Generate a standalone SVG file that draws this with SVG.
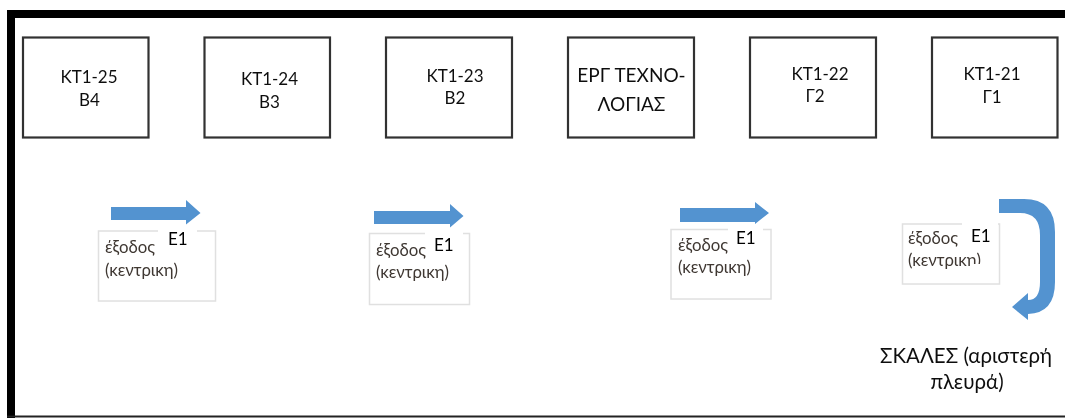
<svg xmlns="http://www.w3.org/2000/svg" width="1065" height="418" viewBox="0 0 1065 418">
<defs>
<filter id="soft" x="-2%" y="-2%" width="104%" height="104%"><feGaussianBlur stdDeviation="0.45"/></filter>
<clipPath id="clipExit"><rect x="903" y="225" width="67" height="48"/><rect x="970" y="225" width="29" height="39"/></clipPath>
</defs>
<style>
text{font-family:Lato,"Liberation Sans",sans-serif;fill:#1c1c1c}
.room{fill:#fff;stroke:#333;stroke-width:2.200}
.lbl{font-size:17px;text-anchor:middle;fill:#111}
.big{font-size:19px;text-anchor:middle;fill:#111}
.stairs{font-size:20.500px;text-anchor:middle;fill:#111}
.exit{fill:#fff;stroke:#e0e0e0;stroke-width:1.500}
.ex{font-size:16.800px;fill:#3f3833}
.e1{font-size:17px;fill:#000}
.arrow{fill:#5393d0}
.gap{fill:#fff}
</style>
<g filter="url(#soft)">
<rect x="0" y="0" width="1065" height="418" fill="#fff"/>
<g id="frame">
<rect x="7" y="10" width="1058" height="8" fill="#000"/>
<rect x="7" y="10" width="8" height="408" fill="#000"/>
<rect x="7" y="415.500" width="1058" height="2" fill="#222"/>
</g>
<g id="connectors">
<path class="arrow" d="M111 207H186V200L200.500 213 186 224.500V220H111Z"/>
<path class="arrow" d="M374 211H450V204L463.500 216 450 227.500V224H374Z"/>
<path class="arrow" d="M680 208H755V202L769 213 755 224V222H680Z"/>
<path class="arrow" d="M999 199H1024Q1055 199 1055 232V282Q1055 313 1028 314V320L1012 307 1028 293V300Q1040 300 1040 282V235Q1040 213 1020 213H999Z"/>
</g>
<g id="room-kt1-25"><rect class="room" x="23" y="37.500" width="125.500" height="100"/><text class="lbl" x="89" y="83">ΚΤ1-25</text><text class="lbl" x="89.500" y="106">Β4</text></g>
<g id="room-kt1-24"><rect class="room" x="204.500" y="37.500" width="125.500" height="100"/><text class="lbl" x="269.500" y="85">ΚΤ1-24</text><text class="lbl" x="269.500" y="108">Β3</text></g>
<g id="room-kt1-23"><rect class="room" x="386" y="37.500" width="126" height="100"/><text class="lbl" x="455" y="82">ΚΤ1-23</text><text class="lbl" x="455" y="104">Β2</text></g>
<g id="room-erg"><rect class="room" x="568" y="37.500" width="126" height="100"/><text class="big" x="631.500" y="82">ΕΡΓ ΤΕΧΝΟ-</text><text class="big" x="631.500" y="111">ΛΟΓΙΑΣ</text></g>
<g id="room-kt1-22"><rect class="room" x="750" y="37.500" width="126" height="100"/><text class="lbl" x="820" y="80">ΚΤ1-22</text><text class="lbl" x="815" y="102">Γ2</text></g>
<g id="room-kt1-21"><rect class="room" x="932" y="37.500" width="125.500" height="100"/><text class="lbl" x="992" y="80">ΚΤ1-21</text><text class="lbl" x="992" y="103">Γ1</text></g>
<g id="exit-1"><rect class="exit" x="98.500" y="231" width="117" height="70"/><rect class="gap" x="158" y="229" width="39" height="5"/><text class="ex" x="105" y="253">έξοδος</text><text class="ex" x="105" y="276">(κεντρικη)</text><text class="e1" x="168" y="245">Ε1</text></g>
<g id="exit-2"><rect class="exit" x="369.500" y="233.500" width="100" height="71"/><rect class="gap" x="425" y="231" width="38" height="5"/><text class="ex" x="376" y="256">έξοδος</text><text class="ex" x="376" y="278">(κεντρικη)</text><text class="e1" x="434" y="251">Ε1</text></g>
<g id="exit-3"><rect class="exit" x="671" y="229.500" width="100" height="69.500"/><rect class="gap" x="728" y="227" width="35" height="5"/><text class="ex" x="678" y="251">έξοδος</text><text class="ex" x="678" y="273">(κεντρικη)</text><text class="e1" x="736" y="244">Ε1</text></g>
<g id="exit-4"><rect class="exit" x="902.500" y="224" width="97" height="60"/><rect class="gap" x="962" y="222" width="36" height="5"/><text class="ex" x="908" y="244">έξοδος</text><text class="ex" x="908" y="266" clip-path="url(#clipExit)">(κεντρικη)</text><text class="e1" x="971" y="242">Ε1</text></g>
<g id="stairs"><text class="stairs" x="966" y="363">ΣΚΑΛΕΣ (αριστερή</text><text class="stairs" x="967" y="389">πλευρά)</text></g>
</g>
</svg>
